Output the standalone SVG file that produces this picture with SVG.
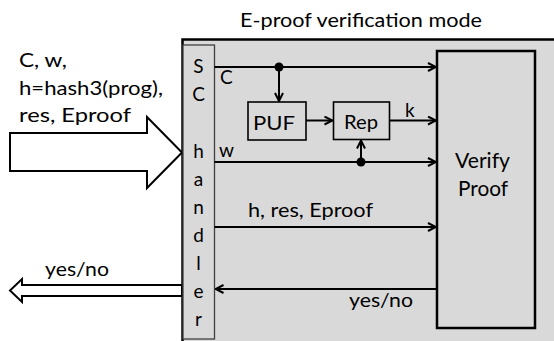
<svg xmlns="http://www.w3.org/2000/svg" width="554" height="341" viewBox="0 0 554 341">
  <style>
    text { font-family: Lato, "Open Sans", "Liberation Sans", sans-serif; font-size: 19px; fill: #000; }
    .big { font-size: 21px; }
    .title { font-size: 18.5px; }
    .wire { fill: none; stroke: #000; stroke-width: 2; }
    .box { fill: none; stroke: #000; stroke-width: 1.6; }
    .dot { fill: #000; }
    .fat { fill: #fff; stroke: #000; stroke-width: 2; stroke-linejoin: miter; }
  </style>
  <defs>
    <marker id="open" viewBox="0 0 10 10" refX="9" refY="5" markerWidth="10" markerHeight="10" markerUnits="userSpaceOnUse" orient="auto">
      <path d="M1,1 L9,5 L1,9" fill="none" stroke="#000" stroke-width="2"/>
    </marker>
  </defs>

  <!-- mode frame -->
  <g id="frame">
    <rect x="182.5" y="39.5" width="420" height="360" fill="#d9d9d9" stroke="#000" stroke-width="2.5"/>
    <text class="title" x="240" y="27" textLength="242" lengthAdjust="spacingAndGlyphs">E-proof verification mode</text>
  </g>

  <!-- input / output arrows -->
  <g id="input">
    <polygon class="fat" points="10,133 147,133 147,117 182,152.5 147,188 147,171 10,171"/>
    <text x="19" y="67" textLength="48" lengthAdjust="spacingAndGlyphs">C, w,</text>
    <text x="19" y="95" textLength="144" lengthAdjust="spacingAndGlyphs">h=hash3(prog),</text>
    <text x="19" y="122" textLength="112" lengthAdjust="spacingAndGlyphs">res, Eproof</text>
  </g>
  <g id="output">
    <polygon class="fat" points="182,285 22,285 22,279 10,290.5 22,302 22,296 182,296"/>
    <text x="45" y="276" textLength="64" lengthAdjust="spacingAndGlyphs">yes/no</text>
  </g>

  <!-- SC handler column -->
  <g id="sc-handler">
    <rect x="183" y="45" width="31.5" height="294" fill="#d9d9d9" stroke="#404040" stroke-width="1.3"/>
    <g text-anchor="middle">
      <text x="198.5" y="73">S</text>
      <text x="198.5" y="101">C</text>
      <text x="198.5" y="158">h</text>
      <text x="198.5" y="186">a</text>
      <text x="198.5" y="214">n</text>
      <text x="198.5" y="242">d</text>
      <text x="198.5" y="270">l</text>
      <text x="198.5" y="298">e</text>
      <text x="198.5" y="326">r</text>
    </g>
  </g>

  <g id="puf">
    <rect class="box" x="248" y="102" width="58" height="38"/>
    <text x="253" y="130" textLength="42" lengthAdjust="spacingAndGlyphs">PUF</text>
  </g>

  <g id="rep">
    <rect class="box" x="333.5" y="102" width="56" height="37.5"/>
    <text x="344" y="129" textLength="34" lengthAdjust="spacingAndGlyphs">Rep</text>
  </g>

  <g id="verify">
    <rect x="437" y="51" width="98" height="277" fill="none" stroke="#000" stroke-width="2.5"/>
    <text class="big" x="455" y="168" textLength="55" lengthAdjust="spacingAndGlyphs">Verify</text>
    <text class="big" x="458" y="196" textLength="50" lengthAdjust="spacingAndGlyphs">Proof</text>
  </g>

  <!-- connectors -->
  <g id="connectors">
    <line class="wire" x1="214.5" y1="67" x2="436" y2="67" marker-end="url(#open)"/>
    <circle class="dot" cx="279" cy="67" r="4.5"/>
    <line class="wire" x1="279" y1="67" x2="279" y2="101" marker-end="url(#open)"/>
    <line class="wire" x1="306" y1="120.5" x2="332.5" y2="120.5" marker-end="url(#open)"/>
    <line class="wire" x1="389.5" y1="120.5" x2="436" y2="120.5" marker-end="url(#open)"/>
    <line class="wire" x1="214.5" y1="162" x2="436" y2="162" marker-end="url(#open)"/>
    <circle class="dot" cx="361" cy="162" r="4.5"/>
    <line class="wire" x1="361" y1="162" x2="361" y2="140.5" marker-end="url(#open)"/>
    <line class="wire" x1="214.5" y1="227" x2="436" y2="227" marker-end="url(#open)"/>
    <line class="wire" x1="437" y1="289" x2="215.5" y2="289" marker-end="url(#open)"/>
    <text x="220" y="84">C</text>
    <text x="219" y="157" textLength="15" lengthAdjust="spacingAndGlyphs">w</text>
    <text x="405" y="117">k</text>
    <text x="248" y="217" textLength="125" lengthAdjust="spacingAndGlyphs">h, res, Eproof</text>
    <text x="349" y="307" textLength="64" lengthAdjust="spacingAndGlyphs">yes/no</text>
  </g>
</svg>
